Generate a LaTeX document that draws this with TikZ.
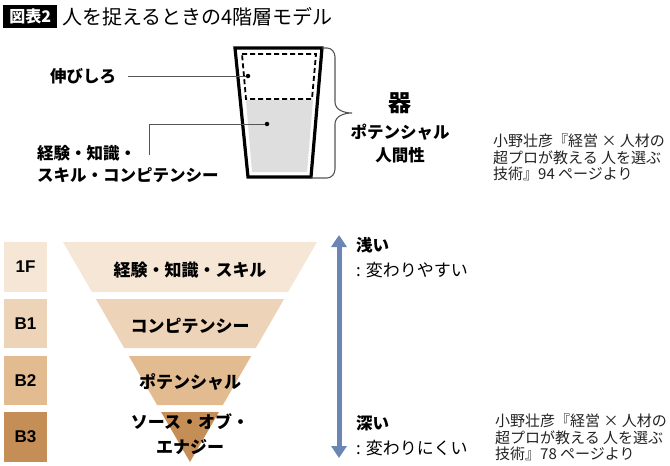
\documentclass[tikz,border=0pt]{standalone}
\usepackage{fontspec}
\setmainfont{Noto Sans CJK JP}
\newfontfamily\lat{Liberation Sans}
\usetikzlibrary{arrows.meta}
\definecolor{lay1}{HTML}{F6E6D6}
\definecolor{lay2}{HTML}{EDD3B8}
\definecolor{lay3}{HTML}{E3BB90}
\definecolor{lay4}{HTML}{C68E57}
\definecolor{cupgray}{HTML}{DEDEDE}
\definecolor{connc}{HTML}{555555}
\definecolor{arrc}{HTML}{6B86B5}
\definecolor{citec}{HTML}{222222}
\begin{document}
\begin{tikzpicture}[x=1pt,y=-1pt,
  lbl/.style={inner sep=0pt,font=\bfseries\fontsize{16.5}{22}\selectfont},
  lblr/.style={inner sep=0pt,font=\fontsize{17}{22}\selectfont},
  citebox/.style={inner sep=0pt,anchor=north west,align=left,text=citec,font=\fontsize{15}{16.5}\selectfont},
  floor/.style={inner sep=0pt,minimum width=43pt,minimum height=50pt,font=\lat\bfseries\fontsize{17}{17}\selectfont},
  conn/.style={draw=connc,line width=1pt},
  dotn/.style={circle,fill=black,inner sep=0pt,minimum size=4.5pt},
  tri/.style={inner sep=0pt,align=center,font=\bfseries\fontsize{17}{25}\selectfont}]
\useasboundingbox (0,0) rectangle (670,466);
% title
\node[fill=black,text=white,inner sep=0pt,minimum width=54pt,minimum height=23pt,anchor=west,font=\bfseries\fontsize{16}{16}\selectfont] (tag) at (3,16.5) {図表2};
\node[anchor=west,inner sep=0pt,font=\fontsize{20}{20}\selectfont] (title) at (62,17) {人を捉えるときの4階層モデル};
% cup
\fill[cupgray] (246,100) -- (313,100) -- (307,172) -- (252,172) -- cycle;
\draw[line width=1.8pt,dash pattern=on 5pt off 3pt] (242,54) -- (316,54) -- (312,99) -- (246,99) -- cycle;
\draw[line width=3.2pt,line join=miter] (235,48) -- (322,48) -- (311,177) -- (248,177) -- cycle;
\node[dotn] (d1) at (248,76) {};
\node[dotn] (d2) at (267,124) {};
% brace
\draw[conn,line width=1.1pt] (322,48) -- (327,48) to[out=0,in=90] (335,57) -- (335,102)
  to[out=-90,in=180] (352,113) to[out=180,in=90] (335,124) -- (335,169)
  to[out=-90,in=0] (327,178) -- (311,178);
% left labels
\node[lbl,anchor=west] (nobi) at (50,76) {伸びしろ};
\draw[conn] ([xshift=12pt]nobi.east) -- (d1);
\node[lbl,anchor=west,align=left] (keiken) at (37,164) {経験・知識・\\スキル・コンピテンシー};
\coordinate (k1) at (149,155);
\draw[conn] (d2) -| (k1);
% right labels
\node[inner sep=0pt,font=\bfseries\fontsize{23}{23}\selectfont] (utsuwa) at (400,103) {器};
\node[lbl] (pot) at (400,132) {ポテンシャル};
\node[lbl] (ningen) at (400,155) {人間性};
\node[citebox] (cite1) at (493,134) {小野壮彦『経営 × 人材の\\超プロが教える 人を選ぶ\\技術』94 ページより};
% floors
\node[floor,fill=lay1] (f1) at (25.5,267) {1F};
\node[floor,fill=lay2,minimum height=49pt] (b1) at (25.5,323.5) {B1};
\node[floor,fill=lay3,minimum height=49pt] (b2) at (25.5,380.5) {B2};
\node[floor,fill=lay4] (b3) at (25.5,437) {B3};
% inverted triangle bands
\fill[lay1] (63,242) -- (317,242) -- (288.1,292) -- (91.9,292) -- cycle;
\fill[lay2] (95.9,299) -- (284.1,299) -- (255.8,348) -- (124.2,348) -- cycle;
\fill[lay3] (128.8,356) -- (251.2,356) -- (222.9,405) -- (157.1,405) -- cycle;
\fill[lay4] (161.1,412) -- (218.9,412) -- (190,462) -- cycle;
\node[tri] (t1) at (190,270) {経験・知識・スキル};
\node[tri] (t2) at (190,326) {コンピテンシー};
\node[tri] (t3) at (190,382) {ポテンシャル};
\node[tri] (t4) at (190,434.5) {ソース・オブ・\\エナジー};
% arrow
\coordinate (atop) at (339,235);
\coordinate (abot) at (339,458);
\draw[draw=arrc,line width=5pt,{Triangle[width=15pt,length=12pt,fill=arrc]}-{Triangle[width=15pt,length=12pt,fill=arrc]}] (atop) -- (abot);
\node[lbl,anchor=west] (asai) at (356,245) {浅い};
\node[lblr,anchor=west] (k1t) at (356,270) {: 変わりやすい};
\node[lbl,anchor=west] (fukai) at (356,423) {深い};
\node[lblr,anchor=west] (k2t) at (356,448) {: 変わりにくい};
\node[citebox,text height=] (cite2) at (495,414) {小野壮彦『経営 × 人材の\\超プロが教える 人を選ぶ\\技術』78 ページより};
\end{tikzpicture}
\end{document}
